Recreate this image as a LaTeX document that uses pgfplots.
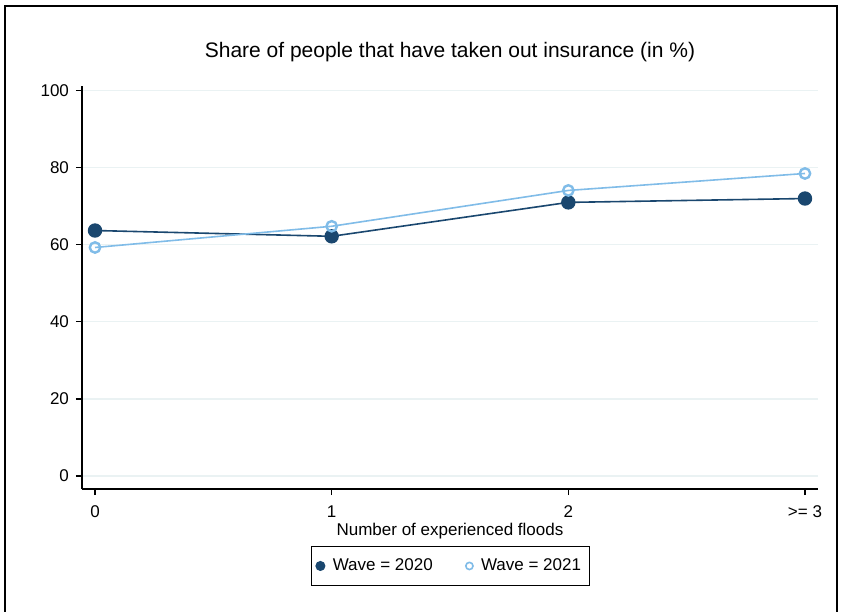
\documentclass[border=0pt]{standalone}
\usepackage{fontspec}
\setmainfont{Liberation Sans}
\usepackage{pgfplots}
\pgfplotsset{compat=1.18}
\definecolor{navyc}{RGB}{26,71,111}
\definecolor{ltbl}{RGB}{128,188,232}
\definecolor{gridc}{RGB}{234,242,243}
\begin{document}
\begin{tikzpicture}
\useasboundingbox (-41pt,-61pt) rectangle (379.5pt,244.5pt);
\fill[white] (-41pt,-61pt) rectangle (379.5pt,244.5pt);
\draw[line width=1pt] (-38.5pt,-70pt) -- (-38.5pt,241.5pt) -- (377.5pt,241.5pt) -- (377.5pt,-70pt);
\begin{axis}[
  at={(0pt,0pt)}, anchor=south west,
  scale only axis, width=368pt, height=201.5pt,
  xmin=-0.055, xmax=3.055, ymin=-3.37, ymax=101.2,
  axis x line*=bottom, axis y line*=left,
  axis line style={line width=0.6pt, -},
  xtick={0,1,2,3}, xticklabels={0,1,2,{>= 3}},
  ytick={0,20,40,60,80,100},
  tick align=outside, tick style={black, line width=0.6pt},
  major tick length=3pt,
  ymajorgrids, grid style={gridc, line width=0.6pt},
  /pgf/number format/assume math mode=true,
  tick label style={font=\fontsize{8.5}{10}\selectfont},
  xticklabel style={yshift=-2pt},
  title={Share of people that have taken out insurance (in \%)},
  title style={at={(axis description cs:0.5,1.055)}, anchor=center, font=\fontsize{10.5}{12}\selectfont},
  xlabel={Number of experienced floods},
  xlabel style={at={(axis description cs:0.5,-0.104)}, anchor=center, font=\fontsize{8.5}{10}\selectfont},
  legend style={at={(axis description cs:0.5007,-0.191)}, anchor=center, legend columns=2, draw=black, line width=0.6pt, font=\fontsize{8.5}{10}\selectfont, inner xsep=2.2pt, inner ysep=4pt, /tikz/every even column/.append style={column sep=14.5pt}},
  legend cell align=left,
  legend image code/.code={\draw[mark repeat=2,mark phase=2,#1] plot coordinates {(0cm,0cm) (0.1cm,0cm) (0.32cm,0cm)};},
]
\addplot[navyc, line width=0.8pt, mark=*, mark size=3.2pt, mark options={fill=navyc, draw=navyc}, forget plot] coordinates {(0,63.7) (1,62.2) (2,71.0) (3,72.0)};
\addplot[ltbl, line width=0.8pt, mark=o, mark size=2.6pt, mark options={draw=ltbl, line width=1.2pt, fill=white}, forget plot] coordinates {(0,59.3) (1,64.8) (2,74.1) (3,78.5)};
\addlegendimage{only marks, mark=*, mark size=2.2pt, navyc, mark options={fill=navyc}}
\addlegendentry{\hspace{2pt}Wave = 2020}
\addlegendimage{only marks, mark=o, mark size=1.8pt, ltbl, mark options={line width=0.8pt}}
\addlegendentry{\hspace{2pt}Wave = 2021\hspace{7pt}}
\end{axis}
\end{tikzpicture}
\end{document}
